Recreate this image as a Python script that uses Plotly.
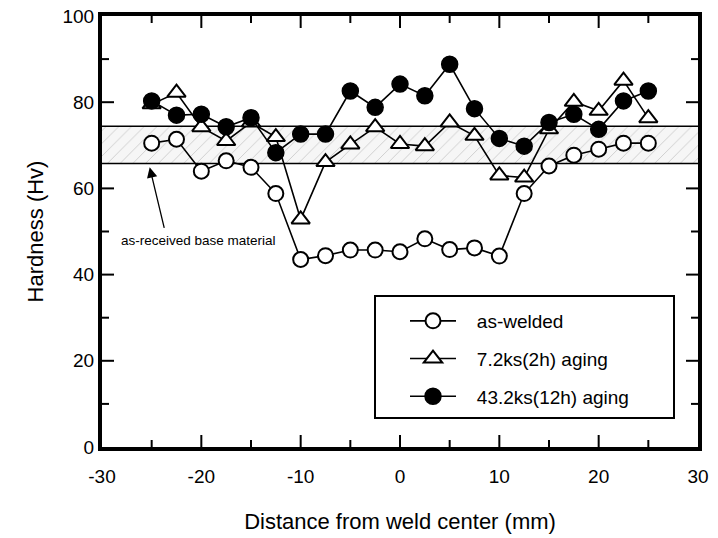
import plotly.graph_objects as go

# ---- data ----
distance_mm = [-25, -22.5, -20, -17.5, -15, -12.5, -10, -7.5, -5, -2.5, 0,
               2.5, 5, 7.5, 10, 12.5, 15, 17.5, 20, 22.5, 25]
as_welded = [70.5, 71.4, 64.0, 66.4, 64.9, 58.8, 43.5, 44.4, 45.7, 45.7, 45.3,
             48.3, 45.8, 46.2, 44.3, 58.8, 65.2, 67.7, 69.1, 70.5, 70.5]
aging_2h = [79.5, 82.2, 74.2, 71.0, 75.3, 71.9, 52.8, 66.1, 70.2, 74.2, 70.3,
            69.8, 75.3, 72.2, 63.0, 62.5, 73.7, 80.1, 78.0, 85.0, 76.3]
aging_12h = [80.3, 77.0, 77.2, 74.3, 76.4, 68.3, 72.6, 72.6, 82.6, 78.8, 84.2,
             81.5, 88.8, 78.5, 71.6, 69.8, 75.3, 77.2, 73.7, 80.3, 82.6]
series_names = ["as-welded", "7.2ks(2h) aging", "43.2ks(12h) aging"]

band_x = [-30, 30]
band_low = [65.8, 65.8]
band_high = [74.4, 74.4]
band_label = "as-received base material"

x_range = [-30, 30]
y_range = [0, 100]
x_ticks = [-30, -20, -10, 0, 10, 20, 30]
x_tick_text = ["-30", "-20", "-10", "0", "10", "20", "30"]
y_ticks = [0, 20, 40, 60, 80, 100]
y_tick_text = ["0", "20", "40", "60", "80", "100"]
x_minor_step = 5
y_minor_step = 10

FONT = "Liberation Sans, Arial, Helvetica, sans-serif"
PAD = "\u00a0\u00a0\u00a0"

PLOT_W = 718 - 102 - 20
PLOT_H = 538 - 16 - 91

fig = go.Figure()

# inward tick marks on all four sides, built from the tick lists on the axis scales
x_span = x_range[1] - x_range[0]
y_span = y_range[1] - y_range[0]
tick_xs, tick_ys = [], []
x_major_inner = x_ticks[1:-1]
x_minor = [t + x_minor_step for t in x_ticks[:-1]]
y_major_inner = y_ticks[1:-1]
y_minor = [t + y_minor_step for t in y_ticks[:-1]]
for vals, px in ((x_major_inner, 12), (x_minor, 7)):
    d = px / PLOT_H * y_span
    for v in vals:
        tick_xs += [v, v, None, v, v, None]
        tick_ys += [y_range[0], y_range[0] + d, None, y_range[1], y_range[1] - d, None]
for vals, px in ((y_major_inner, 12), (y_minor, 7)):
    d = px / PLOT_W * x_span
    for v in vals:
        tick_xs += [x_range[0], x_range[0] + d, None, x_range[1], x_range[1] - d, None]
        tick_ys += [v, v, None, v, v, None]
fig.add_trace(go.Scatter(x=tick_xs, y=tick_ys, mode="lines",
                         line=dict(color="black", width=2),
                         showlegend=False, hoverinfo="skip", connectgaps=False))

# base material band (hatched)
fig.add_trace(go.Scatter(x=band_x, y=band_low, mode="lines",
                         line=dict(color="black", width=1.5),
                         showlegend=False, hoverinfo="skip"))
fig.add_trace(go.Scatter(x=band_x, y=band_high, mode="lines",
                         line=dict(color="black", width=1.5),
                         fill="tonexty", fillcolor="rgba(255,255,255,0)",
                         fillpattern=dict(shape="/", fgcolor="#a0a0a0",
                                          bgcolor="#f6f6f6", size=9, solidity=0.1),
                         showlegend=False, hoverinfo="skip"))

fig.add_trace(go.Scatter(x=distance_mm, y=as_welded, mode="lines+markers",
                         name=PAD + series_names[0], legendgroup="a",
                         line=dict(color="black", width=1.6),
                         marker=dict(symbol="circle", size=15, color="white",
                                     line=dict(color="black", width=2))))
fig.add_trace(go.Scatter(x=distance_mm, y=aging_2h, mode="lines+markers",
                         name=PAD + series_names[1], legendgroup="b",
                         line=dict(color="black", width=1.6),
                         marker=dict(symbol="triangle-up", size=16, color="white",
                                     line=dict(color="black", width=2))))
fig.add_trace(go.Scatter(x=distance_mm, y=aging_12h, mode="lines+markers",
                         name=PAD + series_names[2], legendgroup="c",
                         line=dict(color="black", width=1.6),
                         marker=dict(symbol="circle", size=16, color="black",
                                     line=dict(color="black", width=1.5))))

# annotation with arrow
fig.add_annotation(x=-25.2, y=64.9, ax=-23.7, ay=50.5, xref="x", yref="y",
                   axref="x", ayref="y", text="", showarrow=True,
                   arrowhead=2, arrowsize=1.6, arrowwidth=1.3, arrowcolor="black")
fig.add_annotation(x=-28.3, y=48.0, xref="x", yref="y", text=band_label,
                   showarrow=False, xanchor="left", yanchor="middle",
                   font=dict(family=FONT, size=13.5, color="black"))

# legend box
fig.add_shape(type="rect", xref="paper", yref="paper",
              x0=(375 - 102) / PLOT_W, x1=(674 - 102) / PLOT_W,
              y0=(447 - 418) / PLOT_H, y1=(447 - 296) / PLOT_H,
              line=dict(color="black", width=2), fillcolor="white", layer="above")

fig.update_layout(
    xaxis=dict(range=x_range, tickmode="array", tickvals=x_ticks,
               ticktext=x_tick_text, ticks="", showgrid=False, zeroline=False,
               showline=True, linecolor="black", linewidth=4, mirror=True,
               tickfont=dict(family=FONT, size=19, color="black"),
               ticklabelstandoff=9, automargin=False,
               title=dict(text="Distance from weld center (mm)",
                          font=dict(family=FONT, size=22, color="black"),
                          standoff=29)),
    yaxis=dict(range=y_range, tickmode="array", tickvals=y_ticks,
               ticktext=y_tick_text, ticks="", showgrid=False, zeroline=False,
               showline=True, linecolor="black", linewidth=4, mirror=True,
               tickfont=dict(family=FONT, size=19, color="black"),
               automargin=False,
               title=dict(text="Hardness (Hv)",
                          font=dict(family=FONT, size=22, color="black"),
                          standoff=14)),
)

fig.update_layout(
    width=718, height=538,
    margin=dict(l=102, r=20, t=16, b=91),
    paper_bgcolor="white", plot_bgcolor="rgba(0,0,0,0)",
    font=dict(family=FONT, color="black"),
    showlegend=True,
    legend=dict(x=(405 - 102) / PLOT_W, y=(447 - 302) / PLOT_H, xanchor="left",
                yanchor="top", bgcolor="rgba(0,0,0,0)", borderwidth=0,
                font=dict(family=FONT, size=19, color="black"),
                itemwidth=46, tracegroupgap=10, traceorder="grouped"),
)

fig.write_html("out.html")
